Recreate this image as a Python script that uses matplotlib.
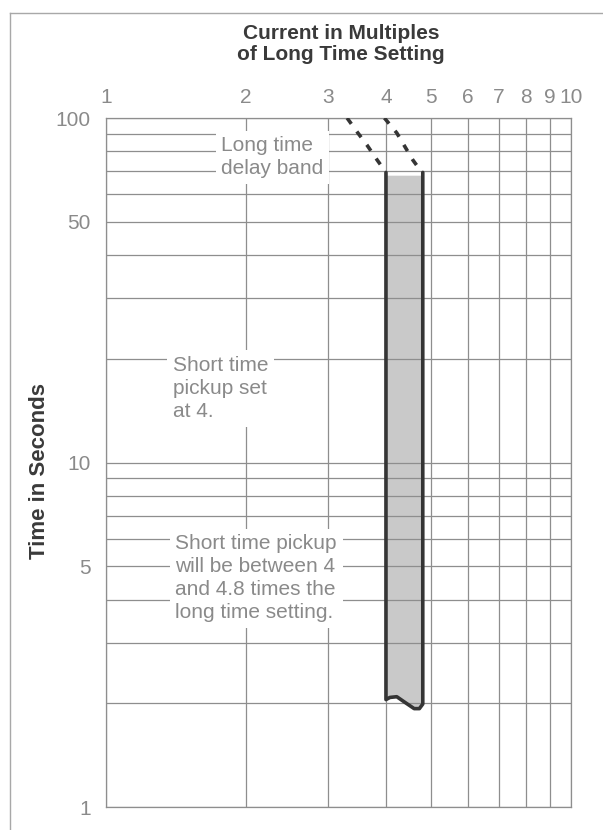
import matplotlib
matplotlib.use("Agg")
import matplotlib.pyplot as plt
from matplotlib.lines import Line2D

plt.rcParams["font.family"] = ["Liberation Sans", "DejaVu Sans"]

# --- data ---
X_TICKS  = [1, 2, 3, 4, 5, 6, 7, 8, 9, 10]
X_LABELS = ["1", "2", "3", "4", "5", "6", "7", "8", "9", "10"]
Y_GRID   = [1, 2, 3, 4, 5, 6, 7, 8, 9, 10, 20, 30, 40, 50, 60, 70, 80, 90, 100]
Y_LABELED = [1, 5, 10, 50, 100]

BAND_LO, BAND_HI = 4.0, 4.8          # short-time pickup band (multiples)
BAND_TOP = 68.0                      # top of shaded band (s)
EDGE_TOP = 69.5
BOT_X = [4.0, 4.08, 4.22, 4.4, 4.6, 4.72, 4.8]          # wavy lower edge
BOT_Y = [2.05, 2.08, 2.09, 2.01, 1.93, 1.93, 1.99]

DASH_L_X = [3.30, 3.47, 3.64, 3.83, 3.97]
DASH_L_Y = [100, 91, 83.5, 75.5, 70.6]
DASH_R_X = [3.97, 4.22, 4.57, 4.78]
DASH_R_Y = [100, 90.5, 75.5, 69.5]

NOTES = [
    (1.77, 77.0, "Long time\ndelay band"),
    (1.39, 16.4, "Short time\npickup set\nat 4."),
    (1.41, 4.62, "Short time pickup\nwill be between 4\nand 4.8 times the\nlong time setting."),
]

GRID_C = "#8e8e8e"
TEXT_C = "#8a8a8a"
DARK   = "#353535"

fig = plt.figure(figsize=(6.03, 8.30), dpi=100, facecolor="white")
ax = fig.add_axes([106 / 603, 23 / 830, 465 / 603, 689 / 830])
ax.set_xscale("log"); ax.set_yscale("log")
ax.set_xlim(1, 10); ax.set_ylim(1, 100)

ax.set_xticks(X_TICKS, minor=False)
ax.set_xticklabels(X_LABELS)
ax.set_xticks([], minor=True)
ax.set_yticks(Y_GRID)
ax.set_yticklabels([str(v) if v in Y_LABELED else "" for v in Y_GRID])
ax.set_yticks([], minor=True)
ax.xaxis.tick_top()
ax.tick_params(axis="x", length=0, pad=8, labelsize=15, labelcolor=TEXT_C)
ax.tick_params(axis="y", length=0, pad=11, labelsize=15, labelcolor=TEXT_C)
ax.set_axisbelow(True)
ax.grid(True, color=GRID_C, lw=0.9)
for s in ax.spines.values():
    s.set_color(GRID_C); s.set_linewidth(0.9)

# shaded band
fill_x = BOT_X + [BAND_HI, BAND_LO]
fill_y = BOT_Y + [BAND_TOP, BAND_TOP]
ax.fill(fill_x, fill_y, color="#c9c9c9", lw=0, zorder=0.2)
outline_x = [BAND_LO] + BOT_X + [BAND_HI]
outline_y = [EDGE_TOP] + BOT_Y + [EDGE_TOP]
ax.plot(outline_x, outline_y, color=DARK, lw=2.6, solid_capstyle="round",
        solid_joinstyle="round", zorder=3)

# long time delay band (dashed)
for xs, ys in [(DASH_L_X, DASH_L_Y), (DASH_R_X, DASH_R_Y)]:
    ax.plot(xs, ys, color=DARK, lw=2.6, ls=(0, (2.0, 2.6)), zorder=3)

for x, y, txt in NOTES:
    ax.text(x, y, txt, ha="left", va="center", fontsize=15, color=TEXT_C,
            linespacing=1.26, zorder=4,
            bbox=dict(facecolor="white", edgecolor="none", pad=4))

fig.text(341 / 603, 1 - 44 / 830, "Current in Multiples\nof Long Time Setting",
         ha="center", va="center", fontsize=15, fontweight="bold",
         color="#3a3a3a", linespacing=1.1)
fig.text(40 / 603, 1 - 471 / 830, "Time in Seconds", rotation=90,
         ha="center", va="center", fontsize=16, fontweight="bold", color="#3a3a3a")

# outer frame of the page
fig.add_artist(Line2D([10 / 603, 10 / 603], [0, 1 - 13 / 830], color="#a8a8a8", lw=1))
fig.add_artist(Line2D([10 / 603, 1], [1 - 13 / 830, 1 - 13 / 830], color="#a8a8a8", lw=1))

fig.savefig("out.png", dpi=100, facecolor="white")
